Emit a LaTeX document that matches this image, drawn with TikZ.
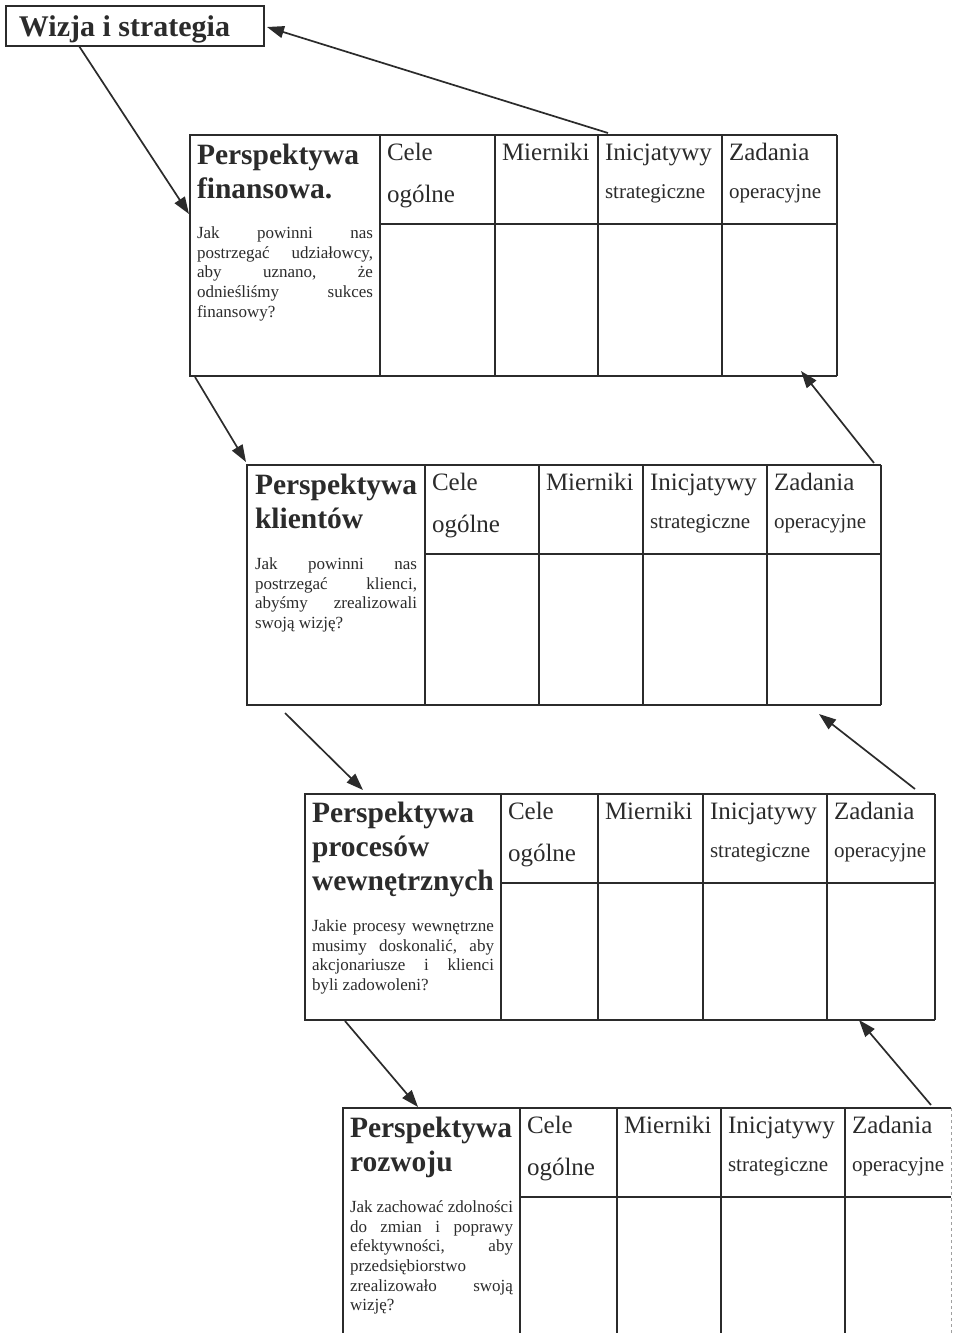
\documentclass[tikz,border=0pt]{standalone}
\usepackage{fontspec}
\setmainfont{Liberation Serif}
\usetikzlibrary{arrows.meta}

\definecolor{ink}{HTML}{2B2B2B}

\tikzset{
  grid/.style={draw=ink, line width=1.5pt},
  edgefaint/.style={draw=ink!45, line width=1pt, dash pattern=on 3pt off 3pt},
  flow/.style={draw=ink, line width=1.7pt, -{Triangle[length=17pt,width=12pt]}},
  txt/.style={anchor=base west, inner sep=0pt, outer sep=0pt, text=ink},
  head/.style={txt, font=\fontsize{29.5}{34}\selectfont\bfseries},
  col/.style={txt, font=\fontsize{25}{30}\selectfont},
  colsmall/.style={txt, font=\fontsize{21}{25}\selectfont},
  question/.style={txt, font=\fontsize{17}{20}\selectfont},
}

% Frame of one perspective: outer box (without right edge), column rules,
% header rule and the column headings.
% #1 name, #2 left, #3 top, #4 right, #5 bottom, #6-#9 column rules
\newcommand\bscgrid[9]{%
  \draw[grid] (#4,#3) -- (#2,#3) -- (#2,#5) -- (#4,#5);
  \draw[grid] (#6,#3) -- (#6,#5) (#7,#3) -- (#7,#5)
              (#8,#3) -- (#8,#5) (#9,#3) -- (#9,#5);
  \draw[grid] (#6,{#3+89}) -- (#4,{#3+89});
  \node[col]      (#1-cele)  at ({#6+7},{#3+25}) {Cele};
  \node[col]      (#1-ogol)  at ({#6+7},{#3+67}) {ogólne};
  \node[col]      (#1-mier)  at ({#7+7},{#3+25}) {Mierniki};
  \node[col]      (#1-inic)  at ({#8+7},{#3+25}) {Inicjatywy};
  \node[colsmall] (#1-strat) at ({#8+7},{#3+63}) {strategiczne};
  \node[col]      (#1-zad)   at ({#9+7},{#3+25}) {Zadania};
  \node[colsmall] (#1-oper)  at ({#9+7},{#3+63}) {operacyjne};
}

\begin{document}
\begin{tikzpicture}[x=1pt, y=-1pt]
  \useasboundingbox (0,0) rectangle (953,1333);
  \fill[white] (0,0) rectangle (953,1333);
  \clip (0,0) rectangle (953,1333);

  % Vision box
  \node[draw=ink, line width=2pt, anchor=north west, minimum width=258pt,
        minimum height=40pt, inner sep=0pt] (vision) at (5,5) {};
  \node[txt, font=\fontsize{30}{34}\selectfont\bfseries] (vision-t) at (19,36) {Wizja i strategia};

  % Financial perspective
  \bscgrid{fin}{190}{135}{837}{376}{380}{495}{598}{722}
  \draw[grid] (837,135) -- (837,376);
  \node[head] (fin-h1) at (197,164) {Perspektywa};
  \node[head] (fin-h2) at (197,198) {finansowa.};
  \node[question] (fin-q1) at (197,238) {\hbox to 176pt{Jak\hfill powinni\hfill nas}};
  \node[question] (fin-q2) at (197,258) {\hbox to 176pt{postrzegać\hfill udziałowcy,}};
  \node[question] (fin-q3) at (197,277) {\hbox to 176pt{aby\hfill uznano,\hfill że}};
  \node[question] (fin-q4) at (197,297) {\hbox to 176pt{odnieśliśmy\hfill sukces}};
  \node[question] (fin-q5) at (197,317) {finansowy?};

  % Customer perspective
  \bscgrid{cli}{247}{465}{881}{705}{425}{539}{643}{767}
  \draw[grid] (881,465) -- (881,705);
  \node[head] (cli-h1) at (255,494) {Perspektywa};
  \node[head] (cli-h2) at (255,528) {klientów};
  \node[question] (cli-q1) at (255,569) {\hbox to 162pt{Jak\hfill powinni\hfill nas}};
  \node[question] (cli-q2) at (255,589) {\hbox to 162pt{postrzegać\hfill klienci,}};
  \node[question] (cli-q3) at (255,608) {\hbox to 162pt{abyśmy\hfill zrealizowali}};
  \node[question] (cli-q4) at (255,628) {swoją wizję?};

  % Internal process perspective
  \bscgrid{pro}{305}{794}{935}{1020}{501}{598}{703}{827}
  \draw[grid] (935,794) -- (935,1020);
  \node[head] (pro-h1) at (312,822) {Perspektywa};
  \node[head] (pro-h2) at (312,856) {procesów};
  \node[head] (pro-h3) at (312,890) {wewnętrznych};
  \node[question] (pro-q1) at (312,931) {\hbox to 182pt{Jakie\hfill procesy\hfill wewnętrzne}};
  \node[question] (pro-q2) at (312,951) {\hbox to 182pt{musimy\hfill doskonalić,\hfill aby}};
  \node[question] (pro-q3) at (312,970) {\hbox to 182pt{akcjonariusze\hfill i\hfill klienci}};
  \node[question] (pro-q4) at (312,990) {byli zadowoleni?};

  % Learning and growth perspective (runs off the lower edge)
  \bscgrid{roz}{343}{1108}{951}{1345}{520}{617}{721}{845}
  \draw[edgefaint] (951,1108) -- (951,1333);
  \node[head] (roz-h1) at (350,1137) {Perspektywa};
  \node[head] (roz-h2) at (350,1171) {rozwoju};
  \node[question] (roz-q1) at (350,1212) {\hbox to 163pt{Jak\hfill zachować\hfill zdolności}};
  \node[question] (roz-q2) at (350,1232) {\hbox to 163pt{do\hfill zmian\hfill i\hfill poprawy}};
  \node[question] (roz-q3) at (350,1251) {\hbox to 163pt{efektywności,\hfill aby}};
  \node[question] (roz-q4) at (350,1271) {przedsiębiorstwo};
  \node[question] (roz-q5) at (350,1291) {\hbox to 163pt{zrealizowało\hfill swoją}};
  \node[question] (roz-q6) at (350,1310) {wizję?};

  % Connector end points
  \coordinate (v-out)   at (79,46);
  \coordinate (fin-in)  at (189,214);
  \coordinate (fin-top) at (608,133);
  \coordinate (v-in)    at (267,27);
  \coordinate (fin-bl)  at (195,377);
  \coordinate (cli-in)  at (246,462);
  \coordinate (cli-tr)  at (874,463);
  \coordinate (fin-br)  at (801,371);
  \coordinate (cli-bl)  at (285,713);
  \coordinate (pro-in)  at (363,790);
  \coordinate (pro-tr)  at (915,789);
  \coordinate (cli-br)  at (819,714);
  \coordinate (pro-bl)  at (345,1021);
  \coordinate (roz-in)  at (418,1107);
  \coordinate (roz-tr)  at (931,1105);
  \coordinate (pro-br)  at (859,1020);

  % Top-down cascade
  \draw[flow] (v-out)  -- (fin-in);
  \draw[flow] (fin-bl) -- (cli-in);
  \draw[flow] (cli-bl) -- (pro-in);
  \draw[flow] (pro-bl) -- (roz-in);
  % Feedback upwards
  \draw[flow] (roz-tr) -- (pro-br);
  \draw[flow] (pro-tr) -- (cli-br);
  \draw[flow] (cli-tr) -- (fin-br);
  \draw[flow] (fin-top) -- (v-in);
\end{tikzpicture}
\end{document}
